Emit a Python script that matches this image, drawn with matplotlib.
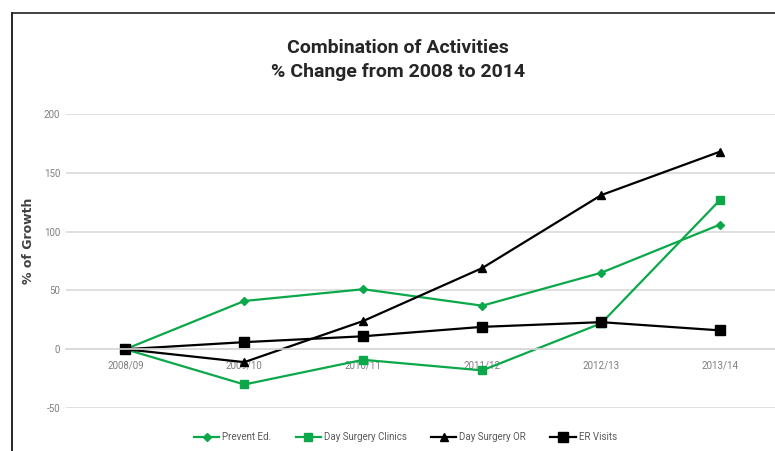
import matplotlib.pyplot as plt
from matplotlib.lines import Line2D

# Data
years = ['2008/09', '2009/10', '2010/11', '2011/12', '2012/13', '2013/14']
prevent_ed = [0, 41, 51, 37, 65, 106]
day_surgery_clinics = [0, -30, -9, -18, 22, 127]
day_surgery_or = [0, -11, 24, 69, 131, 168]
er_visits = [0, 6, 11, 19, 23, 16]
y_ticks = [-50, 0, 50, 100, 150, 200]

plt.rcParams['font.family'] = ['Roboto', 'DejaVu Sans']
plt.rcParams['axes.unicode_minus'] = False

green = '#0BA84A'
fig = plt.figure(figsize=(7.75, 4.51), dpi=100)
ax = fig.add_axes([0.085, 0.0953, 0.921, 0.652])

x = range(len(years))
ax.plot(x, prevent_ed, color=green, lw=1.6, marker='D', ms=4.5, label='Prevent Ed.')
ax.plot(x, day_surgery_clinics, color=green, lw=1.6, marker='s', ms=6, label='Day Surgery Clinics')
ax.plot(x, day_surgery_or, color='black', lw=1.6, marker='^', ms=6, label='Day Surgery OR')
ax.plot(x, er_visits, color='black', lw=1.6, marker='s', ms=7, label='ER Visits')

ax.set_xlim(-0.5, len(years) - 0.5)
ax.set_ylim(-50, 200)
ax.set_yticks(y_ticks)
ax.yaxis.grid(True, color='#d9d9d9', lw=1.2)
ax.set_axisbelow(True)
for s in ['left', 'right', 'top']:
    ax.spines[s].set_visible(False)
ax.spines['bottom'].set_position(('data', 0))
ax.spines['bottom'].set_color('#d9d9d9')
ax.spines['bottom'].set_linewidth(1.2)
ax.set_xticks(list(x))
ax.set_xticklabels(years)
ax.tick_params(axis='both', length=0, labelsize=7, colors='#7f7f7f', pad=8)
ax.tick_params(axis='y', pad=4)
ax.set_ylabel('% of Growth', fontsize=9, fontweight='bold', color='#404040',
              family='DejaVu Sans')
ax.yaxis.set_label_coords(-0.043, 0.57)

fig.text(0.513, 0.867, 'Combination of Activities\n% Change from 2008 to 2014',
         ha='center', va='center', fontsize=14, fontweight='bold',
         color='#262626', linespacing=1.45)

fig.legend(loc='center', bbox_to_anchor=(0.523, 0.03), ncol=4, frameon=False,
           fontsize=7, handlelength=2.6, columnspacing=2.5, handletextpad=0.3,
           labelcolor='#595959')

# outer frame lines (left and top)
fig.add_artist(Line2D([12 / 775, 12 / 775], [0, 1 - 13 / 451], color='black', lw=1.2))
fig.add_artist(Line2D([12 / 775, 1], [1 - 13 / 451, 1 - 13 / 451], color='#222222', lw=1.2))

fig.savefig('out.png', dpi=100)
